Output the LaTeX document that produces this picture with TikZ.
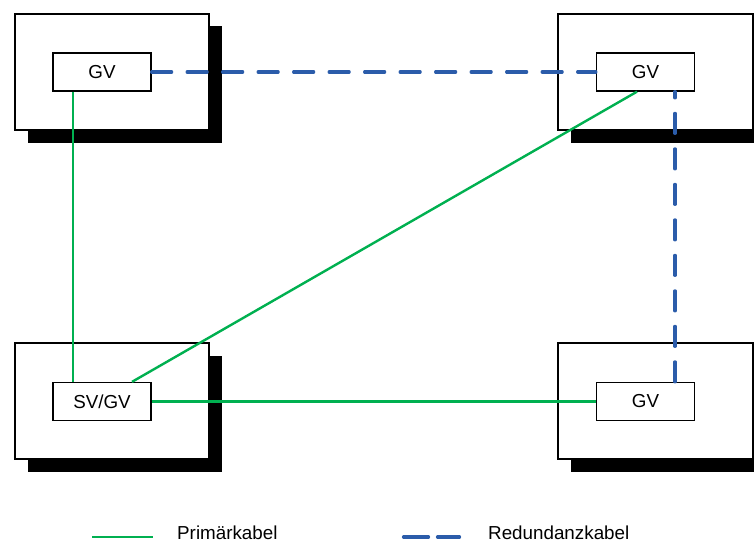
\documentclass[tikz,border=0pt]{standalone}
\usepackage{fontspec}
\setmainfont{Liberation Sans}
\usetikzlibrary{shadows}
\definecolor{primgreen}{RGB}{0,176,80}
\definecolor{redblue}{RGB}{43,92,170}
\begin{document}
\begin{tikzpicture}[x=1pt,y=-1pt,
  building/.style={draw=black,line width=1.3pt,fill=white,inner sep=0pt,
    minimum height=116pt,
    drop shadow={shadow xshift=12.5pt,shadow yshift=-12.5pt,fill=black,opacity=1}},
  distbox/.style={draw=black,line width=1.3pt,fill=white,inner sep=0pt,
    minimum width=98pt,minimum height=38pt,font=\fontsize{18.8}{22}\selectfont},
  primline/.style={draw=primgreen,line width=2.4pt},
  redline/.style={draw=redblue,line width=3.2pt,line cap=round,dash pattern=on 20pt off 15.5pt},
  legtext/.style={anchor=base west,inner sep=0pt,font=\fontsize{18.8}{22}\selectfont}]
\useasboundingbox (0,0) rectangle (754,543);
\clip (0,0) rectangle (754,543);
% buildings
\node[building,minimum width=194pt] (btl) at (112,72) {};
\node[building,minimum width=195pt] (btr) at (655.5,72) {};
\node[building,minimum width=194pt] (bbl) at (112,401) {};
\node[building,minimum width=195pt] (bbr) at (655.5,401) {};
% distributors
\node[distbox] (tl) at (102,72) {GV};
\node[distbox] (tr) at (645.5,72) {GV};
\node[distbox] (bl) at (102,401.5) {SV/GV};
\node[distbox] (br) at (645.5,401.5) {GV};
% primary cables
\draw[primline] ([xshift=-29pt]tl.south) -- ([xshift=-29pt]bl.north);
\draw[primline] ([xshift=-8.5pt]tr.south) -- ([xshift=30pt]bl.north);
\draw[primline] (bl.east) -- (br.west);
% redundancy cables
\draw[redline] (tl.east) -- (tr.west);
\draw[redline] ([xshift=29.5pt]br.north) -- ([xshift=29.5pt]tr.south);
% legend
\coordinate (lg1) at (92,537);
\coordinate (lg2) at (153,537);
\coordinate (lb1) at (403.5,537);
\coordinate (lb2) at (459.5,537);
\draw[primline] (lg1) -- (lg2);
\draw[redline,dash pattern=on 25pt off 9pt] (lb1) -- (lb2);
\node[legtext] (lgt) at (177,539) {Primärkabel};
\node[legtext] (lbt) at (488,539) {Redundanzkabel};
\end{tikzpicture}
\end{document}
